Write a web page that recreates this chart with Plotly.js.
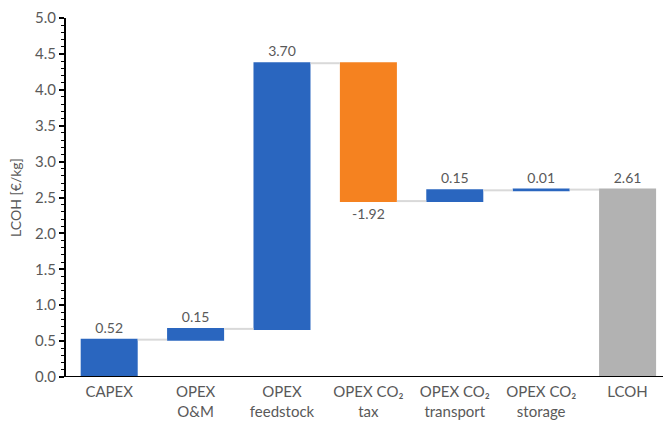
<!DOCTYPE html>
<html><head><meta charset="utf-8">
<script src="https://cdn.plot.ly/plotly-3.0.1.min.js"></script>
<style>html,body{margin:0;padding:0;background:#fff}#c{width:663px;height:423px}</style>
</head><body><div id="c"></div>
<script>
const categories = ["CAPEX", "OPEX<br>O&M", "OPEX<br>feedstock", "OPEX CO₂<br>tax", "OPEX CO₂<br>transport", "OPEX CO₂<br>storage", "LCOH"];
const values = [0.52, 0.15, 3.70, -1.92, 0.15, 0.01, 2.61];
const measures = ["relative", "relative", "relative", "relative", "relative", "relative", "total"];
const labels = ["0.52", "0.15", "3.70", "-1.92", "0.15", "0.01", "2.61"];
const yTickVals = [0, 0.5, 1, 1.5, 2, 2.5, 3, 3.5, 4, 4.5, 5];

const trace = {
  type: "waterfall",
  x: categories,
  y: values,
  measure: measures,
  text: labels,
  textposition: "outside",
  textfont: {family: "Lato, 'Open Sans', sans-serif", size: 14, color: "#595959"},
  cliponaxis: false,
  width: 0.66,
  increasing: {marker: {color: "#2a66bf"}},
  decreasing: {marker: {color: "#f58220"}},
  totals: {marker: {color: "#b2b2b2"}},
  connector: {line: {color: "#d9d9d9", width: 2}},
  hoverinfo: "none"
};

const layout = {
  width: 663, height: 423,
  margin: {l: 66, r: 0, t: 18, b: 46},
  paper_bgcolor: "#fff", plot_bgcolor: "#fff",
  showlegend: false,
  font: {family: "Lato, 'Open Sans', sans-serif", color: "#595959", size: 15},
  xaxis: {
    type: "category",
    range: [-0.5, 6.41],
    showgrid: false, zeroline: false,
    showline: false,
    ticks: "",
    ticklabelstandoff: 4,
    tickfont: {size: 15, color: "#595959"},
    fixedrange: true
  },
  yaxis: {
    range: [0, 5],
    tickvals: yTickVals,
    tickformat: ".1f",
    showgrid: false, zeroline: false,
    showline: true, linecolor: "#000", linewidth: 2,
    ticks: "outside", ticklen: 5, tickwidth: 2, tickcolor: "#000",
    minor: {dtick: 0.1, ticks: "outside", ticklen: 3, tickwidth: 1, tickcolor: "#000"},
    tickfont: {size: 15, color: "#595959"},
    title: {text: "LCOH [€/kg]", font: {size: 14, color: "#595959"}, standoff: 10},
    fixedrange: true
  },
  shapes: [{type: "line", xref: "paper", yref: "y", x0: 0, x1: 1, y0: 0, y1: 0, line: {color: "#000", width: 2}}]
};

Plotly.newPlot("c", [trace], layout, {displayModeBar: false, staticPlot: true});
</script></body></html>
